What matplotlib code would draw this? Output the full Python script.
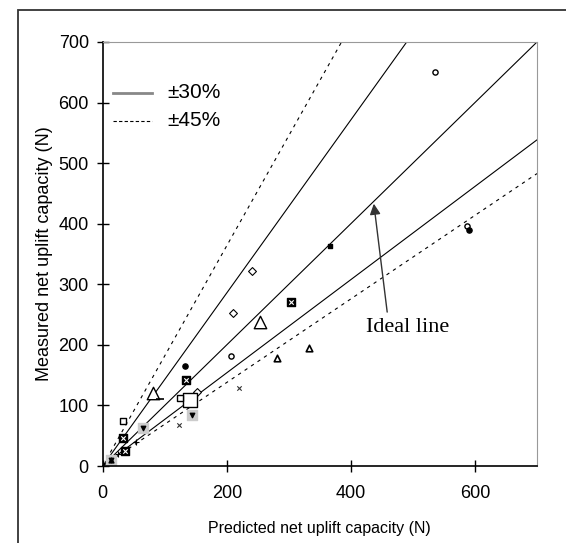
import numpy as np
import matplotlib.pyplot as plt
from matplotlib.patches import Rectangle

# Data (predicted, measured) in N
open_circle = ([535.6, 586.7, 206.8], [650, 397, 181])
filled_circle = ([590.4, 132.0], [390, 164.6])
filled_small_square = ([366.0], [363])
open_diamond = ([240.0, 210.5, 151.5], [322, 253, 122])
big_triangle = ([253.5, 80.6], [238, 121])
small_triangle = ([332.5, 281.5], [195.5, 178])
hatched_square = ([303.5, 135.0, 33.2, 36.0], [270, 141.5, 47, 24])
big_square = ([140.7], [108.5])
small_square = ([124.6, 33.2], [113, 73.8])
gray_square = ([143.4, 64.5, 13.4], [83.7, 63.4, 10.5])
cross = ([220.0, 123.5], [128, 67])
dash = ([92.4], [110])
plus = ([53.0, 25.0], [39.6, 20])
filled_triangle = ([13.4], [10.5])

ticks_x = [0, 200, 400, 600]
ticks_y = [0, 100, 200, 300, 400, 500, 600, 700]
lim = 700

plt.rcParams['font.family'] = ['Liberation Sans', 'DejaVu Sans']

fig = plt.figure(figsize=(5.66, 5.43), dpi=100)
# outer frame of the original figure
fig.patches.append(Rectangle((18 / 566, -0.05), 1.2, 1 - 10 / 543 + 0.05,
                             transform=fig.transFigure, fill=False,
                             edgecolor='#333333', linewidth=1.3))
ax = fig.add_axes([0.1814, 0.1418, 0.7674, 0.7809])

xx = np.array([0, lim])
ax.plot(xx, xx, color='black', lw=0.8)
ax.plot(xx, xx / 0.7, color='black', lw=0.8)
ax.plot(xx, xx / 1.3, color='black', lw=0.8)
ax.plot(xx, xx / 0.55, color='black', lw=0.8, ls=(0, (3, 4)))
ax.plot(xx, xx / 1.45, color='black', lw=0.8, ls=(0, (3, 4)))

ax.scatter(*gray_square, marker='s', s=60, color='#cccccc', zorder=2)
ax.scatter(*open_circle, marker='o', s=14, facecolor='white', edgecolor='black', lw=1, zorder=3)
ax.scatter(*filled_circle, marker='o', s=14, color='black', zorder=3)
ax.scatter(*filled_small_square, marker='s', s=10, color='black', zorder=3)
ax.scatter(*open_diamond, marker='D', s=16, facecolor='white', edgecolor='black', lw=0.8, zorder=3)
ax.scatter(*big_triangle, marker='^', s=80, facecolor='white', edgecolor='black', lw=1, zorder=3)
ax.scatter(*small_triangle, marker='^', s=22, facecolor='white', edgecolor='black', lw=1.2, zorder=3)
ax.scatter(*hatched_square, marker='s', s=40, facecolor='black', edgecolor='black', zorder=3)
ax.scatter(*hatched_square, marker='x', s=10, color='white', lw=0.8, zorder=4)
ax.scatter(*big_square, marker='s', s=110, facecolor='white', edgecolor='black', lw=1, zorder=3)
ax.scatter(*small_square, marker='s', s=22, facecolor='white', edgecolor='black', lw=1, zorder=3)
ax.scatter(*gray_square, marker='v', s=10, color='black', zorder=3)
ax.scatter(*cross, marker='x', s=10, color='#333333', lw=0.8, zorder=3)
ax.scatter(*dash, marker='_', s=40, color='black', lw=1.2, zorder=3)
ax.scatter(*plus, marker='+', s=14, color='black', lw=0.8, zorder=3)
ax.scatter(*filled_triangle, marker='^', s=12, color='black', zorder=3)

ax.annotate('Ideal line', xy=(437, 433), xytext=(425, 229),
            fontsize=16, family=['Liberation Serif'], va='center',
            arrowprops=dict(arrowstyle='-|>', color='#333333', lw=1.0,
                            shrinkA=0, shrinkB=0, relpos=(0.25, 1.3)))

# legend built manually to mimic the original
ax.plot([0.024, 0.114], [0.88, 0.88], transform=ax.transAxes,
        color='#888888', lw=2)
ax.plot([0.024, 0.114], [0.814, 0.814], transform=ax.transAxes,
        color='black', lw=0.8, ls=(0, (3, 2)))
ax.text(0.148, 0.88, '±30%', transform=ax.transAxes, fontsize=15, va='center')
ax.text(0.148, 0.814, '±45%', transform=ax.transAxes, fontsize=15, va='center')

ax.set_xlim(0, lim)
ax.set_ylim(0, lim)
ax.set_xticks(ticks_x)
ax.set_yticks(ticks_y)
ax.tick_params(direction='inout', length=8, width=1, labelsize=13)
ax.tick_params(axis='x', pad=10)
ax.tick_params(axis='y', pad=6)
for s in ['top', 'right']:
    ax.spines[s].set_color('#999999')
for s in ['left', 'bottom']:
    ax.spines[s].set_color('black')
    ax.spines[s].set_linewidth(1.2)

ax.set_xlabel('Predicted net uplift capacity (N)', fontsize=11.5, labelpad=13)
ax.set_ylabel('Measured net uplift capacity (N)', fontsize=13, labelpad=4)

fig.savefig('out.png', dpi=100)
